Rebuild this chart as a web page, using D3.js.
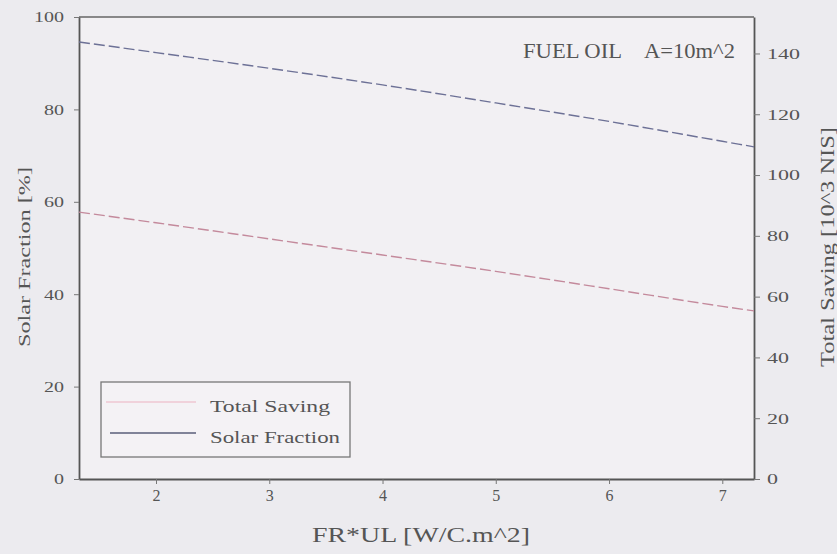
<!DOCTYPE html>
<html>
<head>
<meta charset="utf-8">
<script src="https://cdn.jsdelivr.net/npm/d3@7"></script>
<style>
  body { margin: 0; background: #ecebef; }
  svg { display: block; }
  text { font-family: "Liberation Serif", "DejaVu Serif", serif; fill: #555; }
</style>
</head>
<body>
<div class="chart"></div>
<script>
// FR*UL values along the x axis
const frul = [1.32, 2, 3, 4, 5, 6, 7, 7.28];
// solar fraction [%], left axis
const solarFraction = [94.6, 92.3, 88.9, 85.3, 81.4, 77.4, 73.1, 71.9];
// total saving [10^3 NIS], right axis
const totalSaving = [87.8, 84.3, 79.0, 73.7, 68.3, 62.6, 56.8, 55.3];

const xTicks = [2, 3, 4, 5, 6, 7];
const leftTicks = [0, 20, 40, 60, 80, 100];
const rightTicks = [0, 20, 40, 60, 80, 100, 120, 140];

const w = 837, h = 554;
const pLeft = 79, pRight = 754, pTop = 17, pBottom = 479;

const svg = d3.select(".chart").append("svg")
  .attr("width", w).attr("height", h);

svg.append("rect")
  .attr("x", pLeft).attr("y", pTop)
  .attr("width", pRight - pLeft).attr("height", pBottom - pTop)
  .attr("fill", "#f2f0f3");

const xScale = d3.scaleLinear().domain([1.32, 7.28]).range([pLeft, pRight]);
const yLeft = d3.scaleLinear().domain([0, 100]).range([pBottom, pTop]);
const yRight = d3.scaleLinear().domain([0, 152]).range([pBottom, pTop]);

// frame top
svg.append("line").attr("x1", pLeft).attr("x2", pRight).attr("y1", pTop).attr("y2", pTop)
  .attr("stroke", "#666").attr("stroke-width", 1.5);

const xAxis = svg.append("g")
  .attr("transform", "translate(0," + pBottom + ")")
  .call(d3.axisBottom(xScale).tickValues(xTicks).tickFormat(d3.format("d")).tickSize(5).tickSizeOuter(0));

const yAxisL = svg.append("g")
  .attr("transform", "translate(" + pLeft + ",0)")
  .call(d3.axisLeft(yLeft).tickValues(leftTicks).tickSize(5).tickSizeOuter(0));

const yAxisR = svg.append("g")
  .attr("transform", "translate(" + pRight + ",0)")
  .call(d3.axisRight(yRight).tickValues(rightTicks).tickSize(6).tickSizeOuter(0));

[xAxis, yAxisL, yAxisR].forEach(g => {
  g.select(".domain").attr("stroke", "#555").attr("stroke-width", 1.8);
  g.selectAll(".tick line").attr("stroke", "#777");
  g.selectAll(".tick text")
    .style("font-family", "'Liberation Serif', serif")
    .style("font-size", "15px").attr("fill", "#666");
});
xAxis.selectAll(".tick text").attr("dy", "0.85em").style("font-size", "16px");
yAxisL.selectAll(".tick text").attr("x", -15)
  .attr("textLength", d => String(d).length * 10).attr("lengthAdjust", "spacingAndGlyphs");
yAxisR.selectAll(".tick text").attr("x", 13)
  .attr("textLength", d => String(d).length * 11).attr("lengthAdjust", "spacingAndGlyphs");

// lines
const pts = frul.map((x, i) => ({ x: x, sf: solarFraction[i], ts: totalSaving[i] }));

svg.append("path")
  .datum(pts)
  .attr("fill", "none")
  .attr("stroke", "#6d7196")
  .attr("stroke-width", 1.4)
  .attr("stroke-dasharray", "11,4")
  .attr("d", d3.line().curve(d3.curveMonotoneX).x(d => xScale(d.x)).y(d => yLeft(d.sf)));

svg.append("path")
  .datum(pts)
  .attr("fill", "none")
  .attr("stroke", "#c48a9c")
  .attr("stroke-width", 1.4)
  .attr("stroke-dasharray", "11,4")
  .attr("d", d3.line().curve(d3.curveMonotoneX).x(d => xScale(d.x)).y(d => yRight(d.ts)));

// legend
const lg = svg.append("g");
lg.append("rect").attr("x", 101).attr("y", 382).attr("width", 249).attr("height", 75)
  .attr("fill", "#f4f2f5").attr("stroke", "#777").attr("stroke-width", 1.3);
lg.append("line").attr("x1", 106).attr("x2", 196).attr("y1", 402).attr("y2", 402)
  .attr("stroke", "#efc7d2").attr("stroke-width", 1.5);
lg.append("line").attr("x1", 110).attr("x2", 196).attr("y1", 433).attr("y2", 433)
  .attr("stroke", "#5a5e78").attr("stroke-width", 1.5);
lg.append("text").attr("x", 210).attr("y", 412).text("Total Saving")
  .style("font-size", "17px").attr("fill", "#555")
  .attr("textLength", 120).attr("lengthAdjust", "spacingAndGlyphs");
lg.append("text").attr("x", 210).attr("y", 443).text("Solar Fraction")
  .style("font-size", "17px").attr("fill", "#555")
  .attr("textLength", 130).attr("lengthAdjust", "spacingAndGlyphs");

// annotation
svg.append("text").attr("x", 523).attr("y", 58)
  .style("font-size", "20px").attr("fill", "#555")
  .attr("textLength", 99).attr("lengthAdjust", "spacingAndGlyphs")
  .text("FUEL OIL");
svg.append("text").attr("x", 644).attr("y", 58)
  .style("font-size", "20px").attr("fill", "#555")
  .attr("textLength", 91).attr("lengthAdjust", "spacingAndGlyphs")
  .text("A=10m^2");

// axis titles
svg.append("text").attr("x", 312).attr("y", 542)
  .style("font-size", "21px").attr("fill", "#555")
  .attr("textLength", 218).attr("lengthAdjust", "spacingAndGlyphs")
  .text("FR*UL [W/C.m^2]");

svg.append("text")
  .attr("transform", "translate(30,347) rotate(-90)")
  .style("font-size", "17px").attr("fill", "#555")
  .attr("textLength", 180).attr("lengthAdjust", "spacingAndGlyphs")
  .text("Solar Fraction [%]");

svg.append("text")
  .attr("transform", "translate(834,367) rotate(-90)")
  .style("font-size", "19px").attr("fill", "#555")
  .attr("textLength", 240).attr("lengthAdjust", "spacingAndGlyphs")
  .text("Total Saving [10^3 NIS]");
</script>
</body>
</html>
